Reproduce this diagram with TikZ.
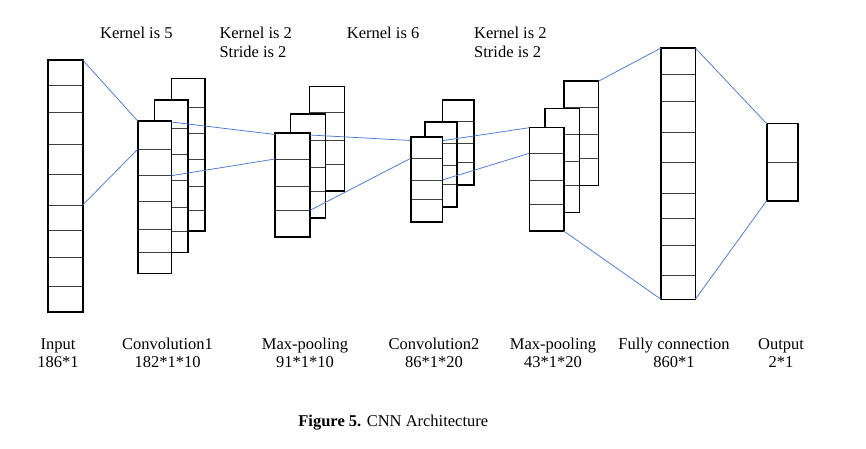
\documentclass[tikz,border=0pt]{standalone}
\usepackage{fontspec}
\setmainfont{Liberation Serif}
\definecolor{linkblue}{RGB}{74,120,206}
\newcommand\nnlayer[6]{%
  \pgfmathsetmacro\lw{#4-#2}\pgfmathsetmacro\lh{#5-#3}%
  \node[layerbox, minimum width=\lw pt, minimum height=\lh pt, anchor=north west] (#1) at (#2,#3) {};
  \foreach \yy in {#6} \draw[divider] (#1.west |- 0,\yy) -- (#1.east |- 0,\yy);
}
\begin{document}
\begin{tikzpicture}[x=1pt,y=-1pt,
  layerbox/.style={draw=black, line width=1.6pt, fill=white, inner sep=0pt, outer sep=0pt},
  divider/.style={draw=black!75, line width=0.9pt, shorten <=0.8pt, shorten >=0.8pt},
  link/.style={draw=linkblue, line width=0.75pt},
  lbl/.style={font=\fontsize{16.5}{19}\selectfont, inner sep=0pt, anchor=base},
  lblw/.style={lbl, anchor=base west}]
\useasboundingbox (0,0) rectangle (866,449);

% Input
\nnlayer{in}{47.7}{60}{82.7}{311.7}{85.7,112.7,144,174.7,205,230,257.3,286.7}
% Convolution1
\nnlayer{c1a}{171.3}{78.7}{205}{231}{107.3,133.3,159,186,210.3}
\nnlayer{c1b}{154.3}{100.3}{188}{252.3}{128.3,154.3,180.3,207.3,231.7}
\nnlayer{c1c}{137.7}{121}{171.3}{273.3}{149.3,175.7,201.7,229,252.3}
% Max-pooling 1
\nnlayer{p1a}{309.3}{86.7}{344.3}{191}{112.7,140.3,164}
\nnlayer{p1b}{290.3}{114}{325.3}{218}{140.3,167.3,191}
\nnlayer{p1c}{275}{133}{309.7}{236.7}{159,186.7,210}
% Convolution2
\nnlayer{c2a}{442.3}{100}{473.7}{184.7}{121.3,143,162.3}
\nnlayer{c2b}{425}{122}{456.7}{206.7}{143.3,165.7,184}
\nnlayer{c2c}{410.7}{137.3}{442.3}{221.7}{158.3,180,199.7}
% Max-pooling 2
\nnlayer{p2a}{563.7}{81.3}{598.3}{185.3}{107.3,134.3,158}
\nnlayer{p2b}{544.7}{108.7}{579.3}{212.3}{134.3,161.3,185.3}
\nnlayer{p2c}{529.3}{127.7}{563.7}{231}{153.3,180.3,204}
% Fully connection
\nnlayer{fc}{661}{48}{695.3}{299.3}{74,101.3,132,162.7,193.3,218.3,245.7,275}
% Output
\nnlayer{out}{766.7}{123.7}{798}{200.7}{162.7}

% connection points
\coordinate (in-m)  at (in.east |- 0,205);
\coordinate (c1c-t) at (c1c.west |- 0,149.3);
\coordinate (c1c-r) at (c1c.east |- 0,122);
\coordinate (c1c-m) at (c1c.east |- 0,175.7);
\coordinate (p1c-l) at (p1c.west |- 0,134.5);
\coordinate (p1c-t) at (p1c.west |- 0,159);
\coordinate (p1c-r) at (p1c.east |- 0,135);
\coordinate (p1c-m) at (p1c.east |- 0,210.5);
\coordinate (c2c-l) at (c2c.west |- 0,140.5);
\coordinate (c2c-t) at (c2c.west |- 0,158.3);
\coordinate (c2c-r) at (c2c.east |- 0,140.7);
\coordinate (c2c-m) at (c2c.east |- 0,180);
\coordinate (p2c-t) at (p2c.west |- 0,153.3);

% connectors
\draw[link] (in.north east) -- (c1c.north west);
\draw[link] (in-m) -- (c1c-t);
\draw[link] (c1c-r) -- (p1c-l);
\draw[link] (c1c-m) -- (p1c-t);
\draw[link] (p1c-r) -- (c2c-l);
\draw[link] (p1c-m) -- (c2c-t);
\draw[link] (c2c-r) -- (p2c.north west);
\draw[link] (c2c-m) -- (p2c-t);
\draw[link] (p2a.north east) -- (fc.north west);
\draw[link] (p2c.south east) -- (fc.south west);
\draw[link] (fc.north east) -- (out.north west);
\draw[link] (fc.south east) -- (out.south west);

% top annotations
\node[lblw] (k1)  at (100,39)   {Kernel is 5};
\node[lblw] (k2)  at (219.3,39) {Kernel is 2};
\node[lblw] (s2)  at (219.3,58) {Stride is 2};
\node[lblw] (k3)  at (346.7,39) {Kernel is 6};
\node[lblw] (k4)  at (474,39)   {Kernel is 2};
\node[lblw] (s4)  at (474,58)   {Stride is 2};

% bottom labels
\node[lbl] (t1) at (58,349)  {Input};
\node[lbl] (d1) at (58,367.5) {186*1};
\node[lbl] (t2) at (167.5,349) {Convolution1};
\node[lbl] (d2) at (167.5,367.5) {182*1*10};
\node[lbl] (t3) at (305,349) {Max-pooling};
\node[lbl] (d3) at (305,367.5) {91*1*10};
\node[lbl] (t4) at (434,349) {Convolution2};
\node[lbl] (d4) at (434,367.5) {86*1*20};
\node[lbl] (t5) at (553,349) {Max-pooling};
\node[lbl] (d5) at (553,367.5) {43*1*20};
\node[lbl] (t6) at (674,349) {Fully connection};
\node[lbl] (d6) at (674,367.5) {860*1};
\node[lbl] (t7) at (781,349) {Output};
\node[lbl] (d7) at (781,367.5) {2*1};

% caption
\node[lbl] (cap) at (393.3,426) {\textbf{Figure 5.} CNN Architecture};
\end{tikzpicture}
\end{document}
